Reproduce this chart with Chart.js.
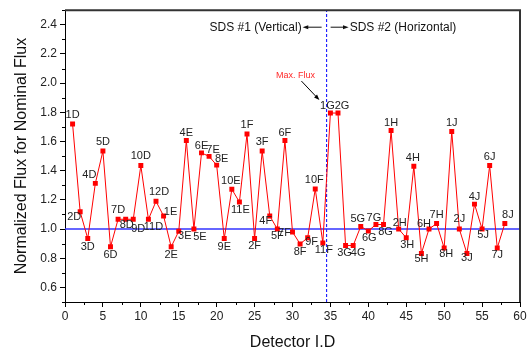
<!DOCTYPE html>
<html lang="en">
<head>
    <meta charset="UTF-8">
    <title>Normalized Flux per Detector</title>
    <script src="https://cdn.jsdelivr.net/npm/chart.js"></script>
    <style>
        body {
            margin: 0;
            background: #fff;
        }
        .chart-container {
            width: 530px;
            height: 353px;
        }
    </style>
</head>
<body>
    <div class="chart-container">
        <canvas id="myChart" width="530" height="353"></canvas>
    </div>
    <script>
        // detector ids, in order 1..58
        const detectorIds = [
            '1D', '2D', '3D', '4D', '5D', '6D', '7D', '8D', '9D', '10D', '11D', '12D',
            '1E', '2E', '3E', '4E', '5E', '6E', '7E', '8E', '9E', '10E', '11E',
            '1F', '2F', '3F', '4F', '5F', '6F', '7F', '8F', '9F', '10F', '11F',
            '1G', '2G', '3G', '4G', '5G', '6G', '7G', '8G',
            '1H', '2H', '3H', '4H', '5H', '6H', '7H', '8H',
            '1J', '2J', '3J', '4J', '5J', '6J', '7J', '8J'
        ];
        const normalizedFlux = [
            1.72, 1.118, 0.935, 1.313, 1.535, 0.878, 1.067, 1.067, 1.067, 1.435, 1.067, 1.19,
            1.09, 0.878, 0.985, 1.607, 1.0, 1.522, 1.498, 1.438, 0.935, 1.273, 1.185,
            1.651, 0.935, 1.535, 1.09, 1.0, 1.607, 0.98, 0.898, 0.94, 1.275, 0.905,
            1.795, 1.795, 0.887, 0.887, 1.018, 0.987, 1.031, 1.031,
            1.675, 1.0, 0.94, 1.43, 0.833, 1.0, 1.038, 0.87,
            1.669, 1.0, 0.833, 1.171, 1.0, 1.435, 0.87, 1.038
        ];
        const nominalLevel = 1.0;
        const sdsBoundary = 34.5;
        const maxFluxId = '1G';
        const xTicks = [0, 5, 10, 15, 20, 25, 30, 35, 40, 45, 50, 55, 60];
        const yTicks = [0.6, 0.8, 1.0, 1.2, 1.4, 1.6, 1.8, 2.0, 2.2, 2.4];

        // where each id label sits relative to its point (px)
        const labelOffsets = [
            [0, -9], [-6, 5], [0, 8], [-6, -8], [0, -9], [0, 8], [0, -9], [1, 6], [5, 10], [0, -10], [5, 8], [3, -9],
            [7, -4], [0, 8], [6, 5], [0, -8], [6, 8], [0, -7], [4, -6], [5, -6], [0, 8], [-1, -8], [1, 8],
            [0, -9], [0, 7], [0, -9], [-4, 5], [0, 7], [0, -8], [-8, 1], [0, 8], [4, 4], [-1, -9], [1, 7],
            [-3, -7], [4, -7], [-1, 7], [5, 7], [-3, -7], [1, 7], [-2, -7], [2, 7],
            [0, -8], [1, -6], [1, 7], [-1, -8], [0, 6], [-5, -5], [0, -9], [2, 6],
            [0, -8], [0, -10], [0, 5], [0, -7], [1, 6], [0, -9], [0, 7], [3, -9]
        ];

        const FONT = 'Arial, "Liberation Sans", sans-serif';

        function arrow(ctx, x1, y1, x2, y2, head) {
            const a = Math.atan2(y2 - y1, x2 - x1);
            ctx.beginPath();
            ctx.moveTo(x1, y1);
            ctx.lineTo(x2 - Math.cos(a) * head * 0.8, y2 - Math.sin(a) * head * 0.8);
            ctx.stroke();
            ctx.beginPath();
            ctx.moveTo(x2, y2);
            ctx.lineTo(x2 - head * Math.cos(a - 0.35), y2 - head * Math.sin(a - 0.35));
            ctx.lineTo(x2 - head * Math.cos(a + 0.35), y2 - head * Math.sin(a + 0.35));
            ctx.closePath();
            ctx.fill();
        }

        const decorations = {
            id: 'decorations',
            afterDraw(chart) {
                const ctx = chart.ctx;
                const { left, right, top, bottom } = chart.chartArea;
                const xs = chart.scales.x;
                const ys = chart.scales.y;
                ctx.save();

                // frame top / right
                ctx.strokeStyle = '#333';
                ctx.lineWidth = 2;
                ctx.beginPath();
                ctx.moveTo(left, top);
                ctx.lineTo(right, top);
                ctx.lineTo(right, bottom);
                ctx.stroke();

                // minor ticks
                ctx.strokeStyle = '#000';
                ctx.lineWidth = 1;
                ctx.beginPath();
                for (let v = 2.5; v < 60; v += 5) {
                    const px = Math.round(xs.getPixelForValue(v)) + 0.5;
                    ctx.moveTo(px, bottom);
                    ctx.lineTo(px, bottom + 3);
                }
                for (let v = 0.5; v < 2.55; v += 0.2) {
                    const py = Math.round(ys.getPixelForValue(v)) + 0.5;
                    ctx.moveTo(left, py);
                    ctx.lineTo(left - 3, py);
                }
                ctx.stroke();

                // id labels
                const meta = chart.getDatasetMeta(0);
                ctx.fillStyle = '#222';
                ctx.font = '11px ' + FONT;
                ctx.textAlign = 'center';
                ctx.textBaseline = 'middle';
                meta.data.forEach((pt, i) => {
                    const [dx, dy] = labelOffsets[i];
                    ctx.fillText(detectorIds[i], pt.x + dx, pt.y + dy);
                });

                // SDS captions
                const bx = xs.getPixelForValue(sdsBoundary);
                const cy = top + 17;
                ctx.font = '12px ' + FONT;
                ctx.fillStyle = '#111';
                ctx.strokeStyle = '#111';
                ctx.textAlign = 'right';
                ctx.fillText('SDS #1 (Vertical)', bx - 25, cy);
                arrow(ctx, bx - 5, cy, bx - 24, cy, 6);
                ctx.textAlign = 'left';
                arrow(ctx, bx + 4, cy, bx + 22, cy, 6);
                ctx.fillText('SDS #2 (Horizontal)', bx + 23, cy);

                // Max. Flux pointer
                const mi = detectorIds.indexOf(maxFluxId);
                const mp = meta.data[mi];
                ctx.fillStyle = '#ff2a2a';
                ctx.font = '9px ' + FONT;
                ctx.textAlign = 'center';
                ctx.fillText('Max. Flux', mp.x - 35, mp.y - 38);
                ctx.fillStyle = '#000';
                ctx.strokeStyle = '#000';
                arrow(ctx, mp.x - 29, mp.y - 32, mp.x - 11, mp.y - 13, 6);

                ctx.restore();
            }
        };

        const ctx = document.getElementById('myChart').getContext('2d');
        new Chart(ctx, {
            type: 'line',
            data: {
                datasets: [
                    {
                        label: 'Normalized flux',
                        data: normalizedFlux.map((v, i) => ({ x: i + 1, y: v })),
                        borderColor: '#ff0000',
                        backgroundColor: '#ff0000',
                        borderWidth: 1,
                        pointStyle: 'rect',
                        pointRadius: 3.5,
                        pointBorderWidth: 0,
                        tension: 0,
                        order: 0
                    },
                    {
                        label: 'Nominal',
                        data: [{ x: 0, y: nominalLevel }, { x: 60, y: nominalLevel }],
                        borderColor: '#3333ff',
                        borderWidth: 1.5,
                        pointRadius: 0,
                        order: 1
                    },
                    {
                        label: 'SDS boundary',
                        data: [{ x: sdsBoundary, y: 0.5 }, { x: sdsBoundary, y: 2.5 }],
                        borderColor: '#0000ff',
                        borderWidth: 1,
                        borderDash: [3, 2],
                        pointRadius: 0,
                        order: 2
                    }
                ]
            },
            options: {
                responsive: false,
                animation: false,
                layout: { padding: { left: 0, right: 10, top: 3, bottom: 0 } },
                plugins: {
                    legend: { display: false },
                    tooltip: { enabled: false }
                },
                scales: {
                    x: {
                        type: 'linear',
                        min: 0,
                        max: 60,
                        afterBuildTicks: s => { s.ticks = xTicks.map(v => ({ value: v })); },
                        afterFit: s => { s.height = 51; },
                        grid: { drawOnChartArea: false, tickLength: 5, color: '#000' },
                        border: { color: '#000', width: 1 },
                        ticks: {
                            color: '#222',
                            font: { size: 12, family: FONT },
                            padding: 2,
                            maxRotation: 0
                        },
                        title: {
                            display: true,
                            text: 'Detector I.D',
                            color: '#111',
                            font: { size: 16, family: FONT },
                            padding: { top: 0, bottom: 1 }
                        }
                    },
                    y: {
                        type: 'linear',
                        min: 0.5,
                        max: 2.5,
                        afterBuildTicks: s => { s.ticks = yTicks.map(v => ({ value: v })); },
                        afterFit: s => { s.width = 65; },
                        grid: { drawOnChartArea: false, tickLength: 5, color: '#000' },
                        border: { color: '#000', width: 1 },
                        ticks: {
                            color: '#222',
                            font: { size: 12, family: FONT },
                            padding: 3,
                            callback: v => v.toFixed(1)
                        },
                        title: {
                            display: true,
                            text: 'Normalized Flux for Nominal Flux',
                            color: '#111',
                            font: { size: 16, family: FONT },
                            padding: { top: 12, bottom: 0 }
                        }
                    }
                }
            },
            plugins: [decorations]
        });
    </script>
</body>
</html>
